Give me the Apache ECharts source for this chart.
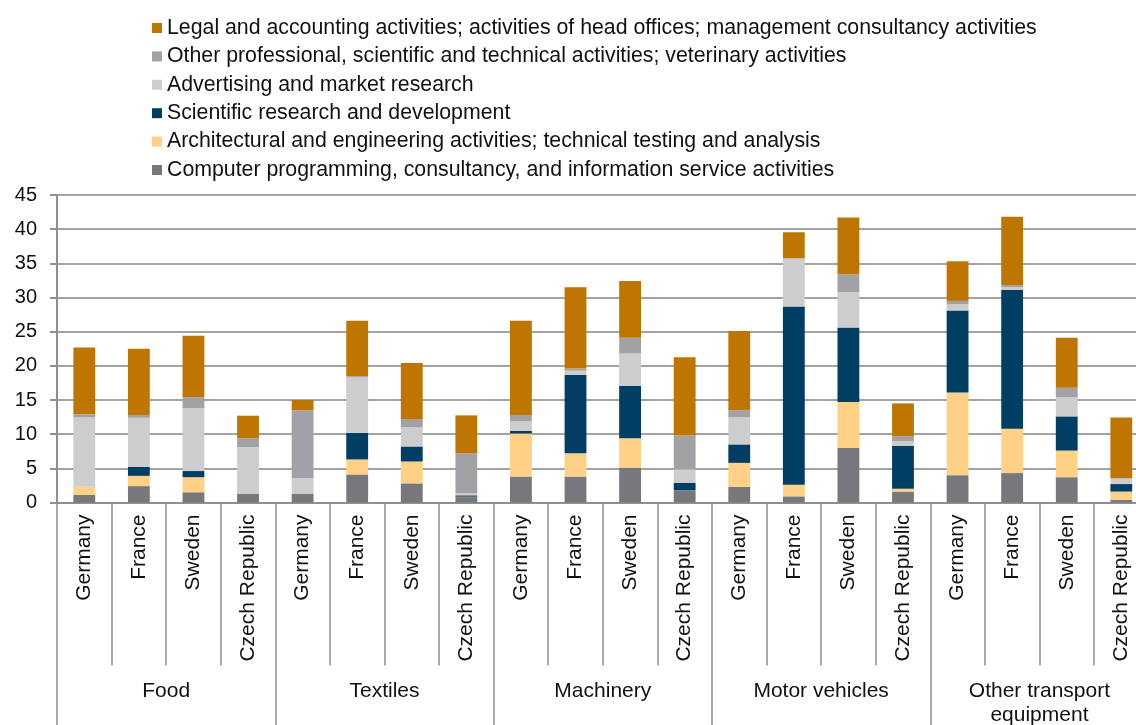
<!DOCTYPE html>
<html>
<head>
<meta charset="utf-8">
<script src="https://cdn.jsdelivr.net/npm/echarts/dist/echarts.min.js"></script>
<style>
  html, body { margin: 0; padding: 0; background: #fff; }
  #chart { width: 1136px; height: 725px; }
</style>
</head>
<body>
<div id="chart"></div>
<script>
// categories
const countries = [
  'Germany', 'France', 'Sweden', 'Czech Republic',
  'Germany', 'France', 'Sweden', 'Czech Republic',
  'Germany', 'France', 'Sweden', 'Czech Republic',
  'Germany', 'France', 'Sweden', 'Czech Republic',
  'Germany', 'France', 'Sweden', 'Czech Republic'
]
const groups = ['Food', 'Textiles', 'Machinery', 'Motor vehicles', 'Other transport\nequipment']
const yTicks = { min: 0, max: 45, interval: 5 }

// series values (stacked bottom -> top)
const computer = [1.1, 2.4, 1.5, 1.3, 1.3, 4.1, 2.8, 0.8, 3.8, 3.8, 5.1, 1.7, 2.3, 0.9, 8.0, 1.6, 4.0, 4.3, 3.7, 0.4]
const architect = [1.2, 1.5, 2.2, 0, 0, 2.2, 3.2, 0.05, 6.3, 3.4, 4.3, 0.05, 3.5, 1.7, 6.7, 0.4, 12.1, 6.5, 3.9, 1.2]
const research = [0, 1.3, 0.9, 0, 0, 3.9, 2.2, 0.2, 0.4, 11.5, 7.7, 1.1, 2.7, 26.1, 10.9, 6.3, 12.0, 20.3, 5.0, 1.1]
const advertising = [10.2, 7.2, 9.2, 6.8, 2.3, 8.1, 2.8, 0.3, 1.4, 0.6, 4.7, 2.0, 4.0, 7.0, 5.2, 0.7, 0.9, 0.4, 2.8, 0.8]
const otherProf = [0.4, 0.4, 1.6, 1.3, 9.9, 0.2, 1.2, 5.85, 0.9, 0.3, 2.3, 4.95, 1.0, 0.05, 2.6, 0.7, 0.5, 0.3, 1.4, 0.1]
const legal = [9.8, 9.7, 9.0, 3.3, 1.5, 8.1, 8.2, 5.55, 13.8, 11.9, 8.3, 11.45, 11.6, 3.8, 8.3, 4.8, 5.8, 10.0, 7.3, 8.85]

const names = {
  legal: 'Legal and accounting activities; activities of head offices; management consultancy activities',
  other: 'Other professional, scientific and technical activities; veterinary activities',
  adv: 'Advertising and market research',
  rnd: 'Scientific research and development',
  arch: 'Architectural and engineering activities; technical testing and analysis',
  comp: 'Computer programming, consultancy, and information service activities'
}

const font = 'Liberation Sans, Arial, sans-serif'
const lineColor = '#8f8f8f'

const chart = echarts.init(document.getElementById('chart'))

function bar(name, data, color) {
  return {
    name: name,
    type: 'bar',
    stack: 'total',
    barWidth: '40%',
    data: data,
    itemStyle: { color: color }
  }
}

chart.setOption({
  animation: false,
  textStyle: { fontFamily: font },
  legend: {
    orient: 'vertical',
    left: 147,
    top: 12.5,
    padding: 5,
    itemWidth: 10,
    itemHeight: 10,
    itemGap: 7.4,
    icon: 'rect',
    textStyle: { fontSize: 21.3, lineHeight: 21, color: '#111', fontFamily: font },
    data: [names.legal, names.other, names.adv, names.rnd, names.arch, names.comp]
  },
  grid: {
    left: 57,
    right: -12.6,
    top: 195,
    bottom: 222.5,
    containLabel: false,
    outerBoundsMode: 'none'
  },
  xAxis: [{
    type: 'category',
    data: countries,
    axisLine: { show: true, lineStyle: { color: lineColor, width: 2 } },
    axisTick: { show: true, interval: 0, length: 163, lineStyle: { color: lineColor, width: 1.5 } },
    axisLabel: {
      interval: 0,
      rotate: 90,
      margin: 12,
      fontSize: 21,
      color: '#111',
      fontFamily: font
    }
  }, {
    type: 'category',
    data: groups,
    position: 'bottom',
    axisLine: { show: false },
    axisTick: { show: true, interval: 0, length: 240, lineStyle: { color: lineColor, width: 1.5 } },
    axisLabel: {
      interval: 0,
      margin: 176.5,
      fontSize: 21,
      lineHeight: 24,
      color: '#111',
      fontFamily: font
    }
  }],
  yAxis: {
    type: 'value',
    min: yTicks.min,
    max: yTicks.max,
    interval: yTicks.interval,
    axisLine: { show: true, lineStyle: { color: lineColor, width: 2 } },
    axisTick: { show: true, length: 7, lineStyle: { color: lineColor, width: 2 } },
    axisLabel: { margin: 20, fontSize: 20, color: '#111', fontFamily: font },
    splitLine: { lineStyle: { color: '#a3a3a3', width: 2 } }
  },
  series: [
    bar(names.comp, computer, '#78777c'),
    bar(names.arch, architect, '#fed186'),
    bar(names.rnd, research, '#003f63'),
    bar(names.adv, advertising, '#cdcdcf'),
    bar(names.other, otherProf, '#a2a2a6'),
    bar(names.legal, legal, '#bf7600')
  ]
})
</script>
</body>
</html>
